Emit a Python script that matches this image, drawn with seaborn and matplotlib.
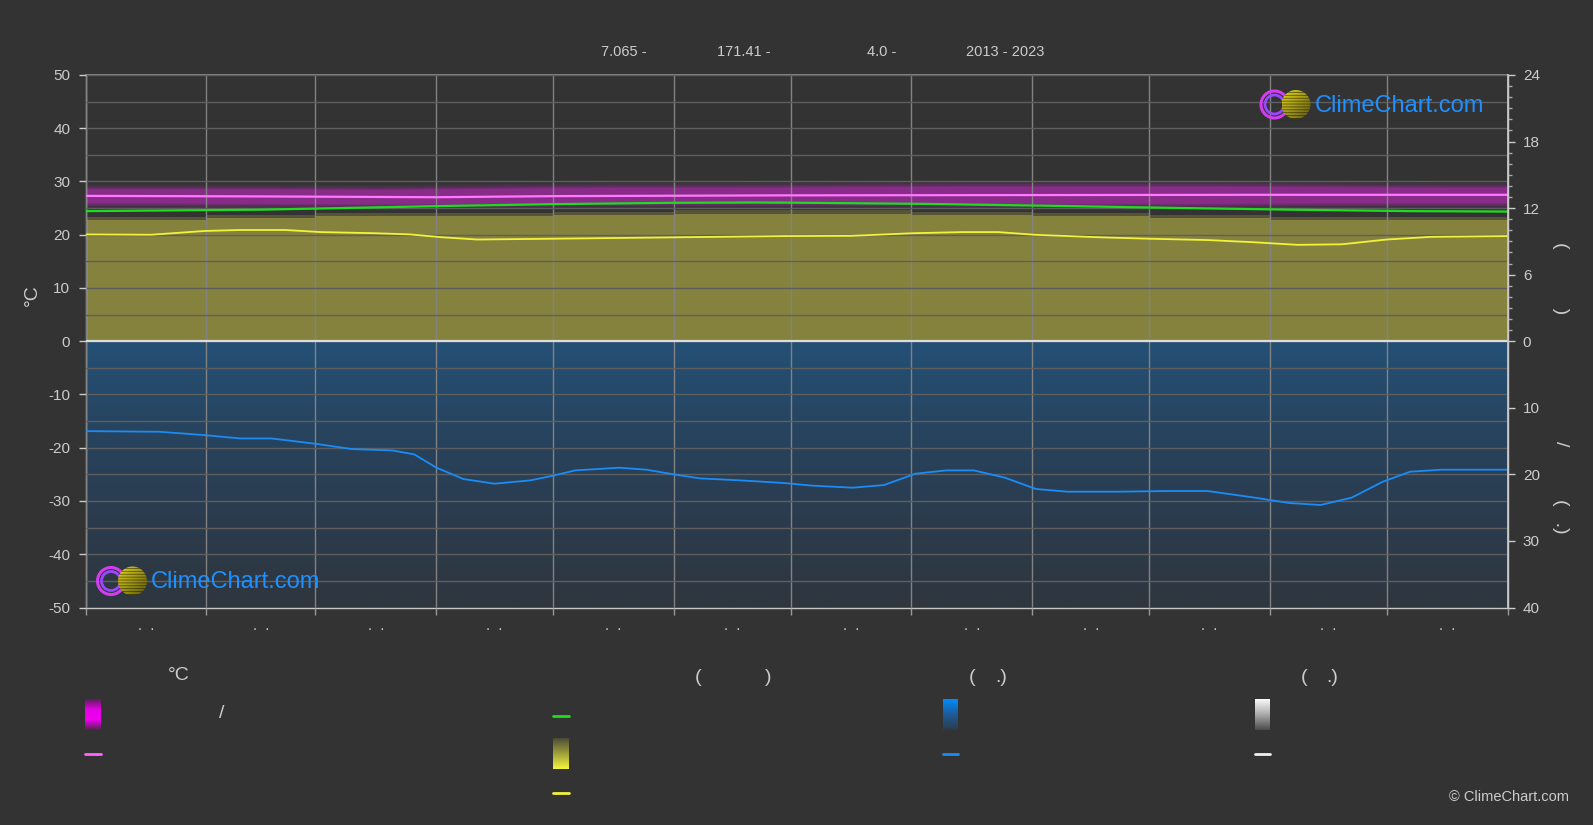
import numpy as np
import pandas as pd
import matplotlib
matplotlib.use("Agg")
import matplotlib.pyplot as plt
import seaborn as sns
from matplotlib.patches import Circle

# ---------------- data ----------------
month_edges = [0, 31, 59, 90, 120, 151, 181, 212, 243, 273, 304, 334, 365]
month_mids = [15.5, 45, 74.5, 105, 135.5, 166, 196.5, 227.5, 258, 288.5, 319, 349.5]
month_labels = [".  ."] * 12

header_texts = ["7.065 -", "171.41 -", "4.0 -", "2013 - 2023"]

# mean temperature (deg C)
temp_days = [0, 45, 90, 120, 180, 240, 300, 365]
temp_mean = [27.3, 27.2, 27.05, 27.25, 27.4, 27.45, 27.5, 27.5]

# daily temperature range band (deg C)
band_days = [0, 15.5, 45, 74.5, 105, 135.5, 166, 196.5, 227.5, 258, 288.5, 319, 349.5, 365]
temp_band_low = [26.0, 26.0, 25.9, 25.8, 25.9, 26.0, 26.0, 26.0, 25.9, 25.9, 25.9, 26.0, 26.0, 26.0]
temp_band_high = [28.6, 28.6, 28.6, 28.5, 28.7, 28.9, 28.9, 29.0, 29.1, 29.1, 29.1, 29.0, 28.9, 28.9]

# daylight hours
daylight_days = [0, 45, 90, 120, 151, 172, 182, 216, 248, 278, 309, 340, 365]
daylight_hours = [11.73, 11.86, 12.18, 12.36, 12.48, 12.51, 12.49, 12.38, 12.21, 12.03, 11.86, 11.73, 11.69]

# sunshine hours
sun_days = [0, 16.8, 22.5, 30.5, 39.7, 51.2, 60.4, 74.1, 83.3, 91.3, 100.5, 114.2, 137.1, 154.3,
            179.3, 196.5, 212.5, 225.1, 234.3, 243.5, 259.5, 273.2, 288.2, 299.6, 311.1, 322.5,
            334, 345.4, 365]
sun_hours = [9.63, 9.60, 9.74, 9.94, 10.03, 10.03, 9.84, 9.74, 9.63, 9.38, 9.17, 9.22, 9.31, 9.38,
             9.48, 9.50, 9.74, 9.84, 9.84, 9.60, 9.38, 9.24, 9.12, 8.93, 8.69, 8.74,
             9.17, 9.41, 9.48]

# top of daily sunshine bars per month (hours)
sun_top_hours = [10.9, 11.1, 11.3, 11.3, 11.4, 11.5, 11.5, 11.4, 11.3, 11.1, 10.9, 10.9]

# precipitation (mm)
precip_days = [0, 19, 30.5, 39.7, 47.7, 59, 68.4, 78.7, 84.4, 90.1, 97, 105, 114.2, 120, 125.7,
               137, 144, 151, 157.7, 168, 179.3, 186.7, 197, 205, 213, 221, 228, 236, 244, 252,
               265, 278, 288, 299, 309, 317, 325, 333, 340, 348, 365]
precip_mm = [13.5, 13.6, 14.1, 14.6, 14.6, 15.4, 16.2, 16.4, 17.0, 19.0, 20.7, 21.4, 20.9, 20.2, 19.4,
             19.0, 19.3, 20.0, 20.6, 20.9, 21.3, 21.7, 22.0, 21.6, 19.9, 19.4, 19.4, 20.5, 22.2, 22.6,
             22.6, 22.5, 22.5, 23.4, 24.3, 24.6, 23.5, 21.1, 19.6, 19.3, 19.3]

right_tick_labels = ["24", "18", "12", "6", "0", "10", "20", "30", "40"]

HOURS_TO_C = 50.0 / 24.0
MM_TO_C = -50.0 / 40.0

# ---------------- style ----------------
W, H = 1593, 825
BG = "#333333"
TXT = "#cccccc"
sns.set_theme(style="dark", rc={"axes.facecolor": BG, "figure.facecolor": BG})
plt.rcParams["font.family"] = ["Liberation Sans", "DejaVu Sans"]
plt.rcParams["axes.unicode_minus"] = False

fig = plt.figure(figsize=(W / 100, H / 100), dpi=100, facecolor=BG)
L, R, T, B = 85.5, 1507.5, 75.0, 607.5
ax = fig.add_axes([L / W, 1 - B / H, (R - L) / W, (B - T) / H])
ax.set_facecolor(BG)

# precipitation background (blue gradient region)
stops = np.array([[36, 80, 118], [39, 68, 95], [43, 60, 78], [47, 54, 62]]) / 255
pos = np.linspace(0, 1, len(stops))
tt = np.linspace(0, 1, 200)
grad = np.stack([np.interp(tt, pos, stops[:, k]) for k in range(3)], axis=1)[:, None, :]
ax.imshow(grad, extent=[0, 365, -50, 0], aspect="auto", origin="upper", zorder=1)

# sunshine bars region
sun_top = [v * HOURS_TO_C for v in sun_top_hours] + [sun_top_hours[-1] * HOURS_TO_C]
ax.fill_between(month_edges, 0, [v + 0.6 for v in sun_top], step="post", color="#5f5d3a",
                lw=0, zorder=1.5, alpha=0.8)
ax.fill_between(month_edges, 0, sun_top, step="post", color="#85823e", lw=0, zorder=1.6)

# temperature band (fuzzy)
lo = np.array(temp_band_low)
hi = np.array(temp_band_high)
for pad, a in [(0.9, 0.16), (0.5, 0.22), (0.2, 0.32), (0.0, 0.42)]:
    ax.fill_between(band_days, lo - pad, hi + pad, color="#a82aa8", alpha=a, lw=0, zorder=1.8)

# limits & grid
ax.set_xlim(0, 365)
ax.set_ylim(-50, 50)
ax.set_axisbelow(False)
ax.set_xticks(month_edges)
ax.set_xticklabels([""] * len(month_edges))
ax.set_xticks(month_mids, minor=True)
ax.set_xticklabels(month_labels, minor=True)
ax.set_yticks(np.arange(-50, 51, 10))
ax.set_yticks(np.arange(-45, 50, 10), minor=True)
ax.xaxis.grid(True, which="major", color="#828282", lw=1.0)
ax.xaxis.grid(False, which="minor")
ax.yaxis.grid(True, which="both", color="#5e5e5e", lw=1.0)
for gl in ax.get_xgridlines() + ax.get_ygridlines():
    gl.set_zorder(2)

ax.tick_params(axis="y", which="major", colors="#cccccc", labelcolor=TXT, labelsize=11,
               length=5, width=1, direction="out", pad=6, left=True)
ax.tick_params(axis="y", which="minor", length=0)
ax.tick_params(axis="x", which="major", colors="#999999", length=5, width=1, direction="out",
               bottom=True)
ax.tick_params(axis="x", which="minor", length=0, labelcolor=TXT, labelsize=10.5, pad=8)
for s in ["left", "right", "bottom"]:
    ax.spines[s].set_color("#c8c8c8")
    ax.spines[s].set_linewidth(1)
ax.spines["top"].set_color("#8a8a8a")

ax.axhline(0, color="#dcdcdc", lw=1.6, zorder=5)

# lines
df_temp = pd.DataFrame({"day": temp_days, "v": temp_mean})
df_day = pd.DataFrame({"day": daylight_days, "v": [h * HOURS_TO_C for h in daylight_hours]})
df_sun = pd.DataFrame({"day": sun_days, "v": [h * HOURS_TO_C for h in sun_hours]})
df_pre = pd.DataFrame({"day": precip_days, "v": [m * MM_TO_C for m in precip_mm]})
sns.lineplot(data=df_day, x="day", y="v", ax=ax, color="#1fdc1f", lw=1.6, zorder=6)
sns.lineplot(data=df_temp, x="day", y="v", ax=ax, color="#ff78ff", lw=1.6, zorder=6)
sns.lineplot(data=df_sun, x="day", y="v", ax=ax, color="#f2f23a", lw=1.3, zorder=6)
sns.lineplot(data=df_pre, x="day", y="v", ax=ax, color="#1b8cf5", lw=1.3, zorder=6)
for ln in ax.get_lines():
    ln.set_solid_joinstyle("round")
    ln.set_antialiased(True)
ax.set_xlabel("")
ax.set_ylabel("")

# right axis
ax2 = ax.twinx()
ax2.set_ylim(-50, 50)
ax2.grid(False)
right_pos = [24 * HOURS_TO_C, 18 * HOURS_TO_C, 12 * HOURS_TO_C, 6 * HOURS_TO_C, 0,
             10 * MM_TO_C, 20 * MM_TO_C, 30 * MM_TO_C, 40 * MM_TO_C]
ax2.set_yticks(right_pos)
ax2.set_yticklabels(right_tick_labels)
ax2.set_yticks([h * HOURS_TO_C for h in range(1, 24) if h % 6 != 0], minor=True)
ax2.tick_params(axis="y", which="major", colors="#cccccc", labelcolor=TXT, labelsize=11,
                length=5, width=1, direction="out", pad=6, right=True)
ax2.tick_params(axis="y", which="minor", colors="#aaaaaa", length=3, width=1, direction="out",
                right=True)
for s in ["left", "top", "bottom"]:
    ax2.spines[s].set_visible(False)
ax2.spines["right"].set_color("#c8c8c8")
ax2.patch.set_alpha(0)

# ---------------- overlay (figure pixel coords) ----------------
ov = fig.add_axes([0, 0, 1, 1], facecolor="none")
ov.set_zorder(10)
ov.axis("off")


def vgrad(x0, x1, y0, y1, cstops):
    cols = np.array([np.array(c) / 255 for c in cstops])
    m = 100
    p = np.linspace(0, 1, len(cols))
    t = np.linspace(0, 1, m)
    arr = np.stack([np.interp(t, p, cols[:, k]) for k in range(3)], axis=1)[:, None, :]
    ov.imshow(arr, extent=[x0, x1, y1, y0], aspect="auto", origin="upper", zorder=3)


# header
for (cx, txt) in zip([624, 744, 882, 1005], header_texts):
    ov.text(cx, 52, txt, color=TXT, fontsize=10.5, ha="center", va="center")

# axis titles
ov.text(32, 295, "°C", color=TXT, fontsize=14, rotation=90, ha="center", va="center")
ov.text(1561, 278, "(" + " " * 11 + ")", color=TXT, fontsize=14, rotation=270,
        ha="center", va="center")
ov.text(1561, 444, "/", color=TXT, fontsize=14, rotation=270, ha="center", va="center")
ov.text(1561, 516, "(   .)", color=TXT, fontsize=14, rotation=270, ha="center", va="center")

# legend headers
ov.text(179, 676, "°C", color=TXT, fontsize=14, ha="center", va="center")
ov.text(695, 677, "(", color=TXT, fontsize=14, ha="left", va="center")
ov.text(771, 677, ")", color=TXT, fontsize=14, ha="right", va="center")
ov.text(969, 677, "(", color=TXT, fontsize=14, ha="left", va="center")
ov.text(1007, 677, ".)", color=TXT, fontsize=14, ha="right", va="center")
ov.text(1301, 677, "(", color=TXT, fontsize=14, ha="left", va="center")
ov.text(1338, 677, ".)", color=TXT, fontsize=14, ha="right", va="center")
ov.text(222, 714, "/", color=TXT, fontsize=14, ha="center", va="center")

# legend swatches
vgrad(85, 101, 699, 730, [(90, 30, 90), (230, 0, 230), (240, 0, 240), (80, 35, 80)])
ov.plot([85, 101], [754, 754], color="#ff66ff", lw=2)
ov.plot([553, 569], [716, 716], color="#1fdc1f", lw=2)
vgrad(553, 569, 738, 769, [(75, 75, 55), (160, 160, 60), (245, 245, 60)])
ov.plot([553, 569], [793, 793], color="#f2f23a", lw=2)
vgrad(943, 958, 699, 730, [(0, 140, 255), (30, 90, 150), (45, 60, 75)])
ov.plot([943, 958], [754, 754], color="#1b8cf5", lw=2)
vgrad(1255, 1270, 699, 730, [(250, 250, 250), (170, 170, 170), (75, 75, 75)])
ov.plot([1255, 1270], [754, 754], color="#f0f0f0", lw=2)

# copyright
ov.text(1569, 797, "© ClimeChart.com", color=TXT, fontsize=10.5, ha="right", va="center")


def logo(rx, cy, tx):
    ov.add_patch(Circle((rx, cy), 13.5, fill=False, ec="#d43cf0", lw=2.2, zorder=4))
    ov.add_patch(Circle((rx, cy), 9.5, fill=False, ec="#9c46ff", lw=2.0, zorder=4))
    sx = rx + 21.5
    circ = Circle((sx, cy), 14.5, transform=ov.transData, fc="none", ec="none")
    ov.add_patch(circ)
    m = 30
    img = np.zeros((m, m, 3))
    for i in range(m):
        for j in range(m):
            t = (i + j) / (2 * m)
            base = np.array([230, 215, 20]) * (1 - t) + np.array([90, 85, 20]) * t
            if i % 3 == 2:
                base = base * 0.55
            img[i, j] = base / 255
    im = ov.imshow(img, extent=[sx - 14.5, sx + 14.5, cy + 14.5, cy - 14.5], origin="upper",
                   aspect="auto", zorder=5)
    im.set_clip_path(circ)
    ov.text(tx, cy + 1, "ClimeChart.com", color="#1e90ff", fontsize=17, ha="left", va="center",
            zorder=6)


logo(1274.5, 104.5, 1315)
logo(111, 581, 151)

ov.set_xlim(0, W)
ov.set_ylim(H, 0)

fig.savefig("out.png", dpi=100, facecolor=BG)
